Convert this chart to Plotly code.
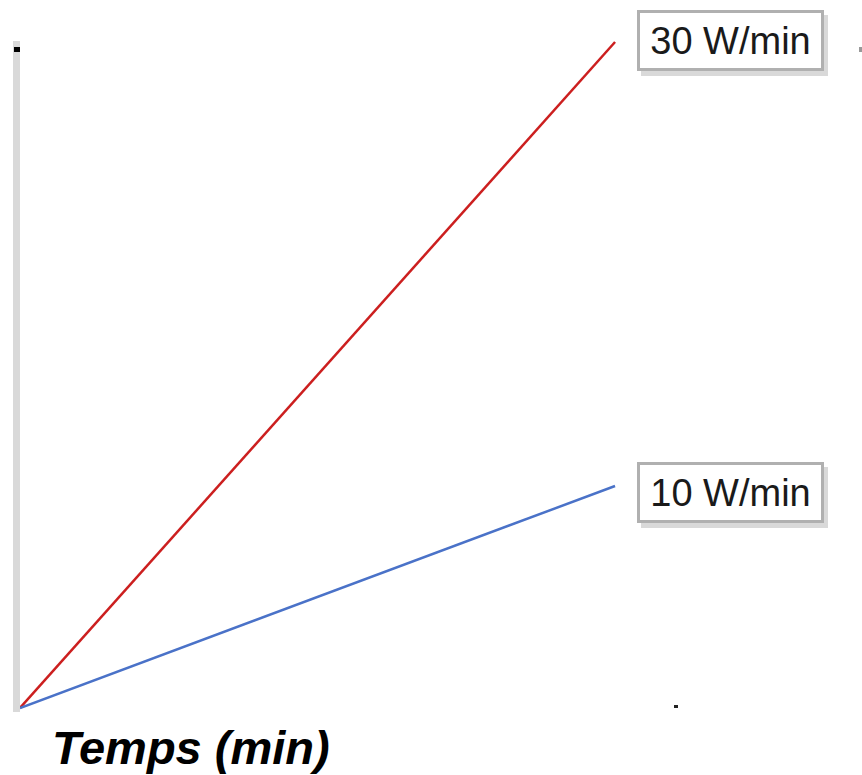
import plotly.graph_objects as go

# ---- data ----
time_min = [0, 10]
power_30 = [0, 300]   # 30 W/min ramp
power_10 = [0, 100]   # 10 W/min ramp
series_labels = ["30 W/min", "10 W/min"]
x_title = "Temps (min)"

W, H = 862, 775
L, R, T, B = 20, 241, 41, 63
PW, PH = W - L - R, H - T - B

def px(xp):
    return (xp - L) / PW

def py(yp):
    return (H - B - yp) / PH

fig = go.Figure()
fig.add_trace(go.Scatter(x=time_min, y=power_30, mode="lines",
                         line=dict(color="#cc1f1f", width=2.5),
                         hoverinfo="skip", showlegend=False))
fig.add_trace(go.Scatter(x=time_min, y=power_10, mode="lines",
                         line=dict(color="#4a72c8", width=2.5),
                         hoverinfo="skip", showlegend=False))

font_box = dict(family="Liberation Sans, Arial, sans-serif", size=38, color="#1a1a1a")
annotations = []
for label, yv, yshift in [(series_labels[0], power_30[-1], 2), (series_labels[1], power_10[-1], -6)]:
    # light shadow (bottom/right)
    annotations.append(dict(x=time_min[-1], y=yv, xref="x", yref="y", text="&nbsp;",
                            showarrow=False, xanchor="left", yanchor="middle",
                            xshift=26, yshift=yshift - 5,
                            font=dict(family=font_box["family"], size=38, color="rgba(0,0,0,0)"),
                            bgcolor="#d9d9d9", bordercolor="#d9d9d9", borderwidth=3,
                            width=181, height=55, borderpad=0))
    annotations.append(dict(x=time_min[-1], y=yv, xref="x", yref="y", text=label,
                            showarrow=False, xanchor="left", yanchor="middle",
                            xshift=22, yshift=yshift,
                            font=font_box, align="center",
                            bgcolor="white", bordercolor="#b0b0b0", borderwidth=3,
                            width=181, height=55, borderpad=0))

annotations.append(dict(x=px(50), y=py(747), xref="paper", yref="paper",
                        text="<b><i>" + x_title + "</i></b>", showarrow=False,
                        xanchor="left", yanchor="middle",
                        font=dict(family="Liberation Sans, Arial, sans-serif", size=47, color="black")))

shapes = [
    dict(type="rect", xref="paper", yref="paper", x0=px(14), x1=px(20), y0=py(52), y1=py(47),
         fillcolor="black", line=dict(width=0)),
    dict(type="rect", xref="paper", yref="paper", x0=px(674), x1=px(678), y0=py(708), y1=py(705),
         fillcolor="#222", line=dict(width=0)),
    dict(type="rect", xref="paper", yref="paper", x0=px(859), x1=px(862), y0=py(52), y1=py(47),
         fillcolor="#999", line=dict(width=0)),
]

fig.update_layout(
    width=W, height=H,
    margin=dict(l=L, r=R, t=T, b=B, pad=0),
    paper_bgcolor="white", plot_bgcolor="white",
    xaxis=dict(range=[0, 10.1], showgrid=False, zeroline=False, showticklabels=False,
               ticks="", showline=False),
    yaxis=dict(range=[-1.8, 300.45], showgrid=False, zeroline=False, showticklabels=False,
               ticks="", showline=True, linecolor="#d9d9d9", linewidth=7),
    annotations=annotations,
    shapes=shapes,
)

fig.write_html("out.html", config={"displayModeBar": False},
               post_script="document.body.style.margin='0';")
